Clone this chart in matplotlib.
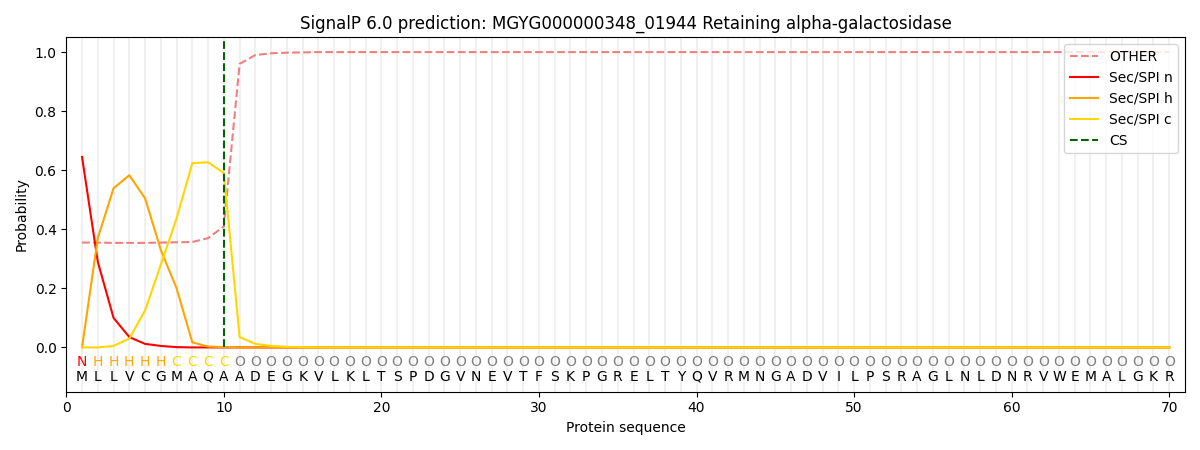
import numpy as np
import matplotlib
matplotlib.use("Agg")
import matplotlib.pyplot as plt

title = "SignalP 6.0 prediction: MGYG000000348_01944 Retaining alpha-galactosidase"
sequence = list("MLLVCGMAQAADEGKVLKLTSPDGVNEVTFSKPGRELTYQVRMNGADVILPSRAGLNLDNRVWEMALGKR")
region_labels = list("NHHHHHCCCC") + ["O"] * 60
cs_position = 10

other = [0.355, 0.355, 0.354, 0.354, 0.354, 0.355, 0.356, 0.357, 0.37, 0.41,
         0.96, 0.99, 0.996, 0.998, 0.999] + [1.0] * 55
sec_n = [0.645, 0.29, 0.10, 0.035, 0.012, 0.005, 0.001, 0.0] + [0.0] * 62
sec_h = [0.0, 0.37, 0.539, 0.583, 0.505, 0.33, 0.20, 0.017, 0.003, 0.001] + [0.0] * 60
sec_c = [0.0, 0.0, 0.005, 0.03, 0.125, 0.28, 0.437, 0.624, 0.627, 0.59,
         0.035, 0.012, 0.005, 0.002, 0.001] + [0.0] * 55

label_colors = {"N": "red", "H": "orange", "C": "gold", "O": "gray"}

positions = np.arange(1, len(sequence) + 1)

fig, ax = plt.subplots(figsize=(12, 4.5), dpi=100)

for p in positions:
    ax.axvline(p, color="#eeeeee", linewidth=1.2, zorder=0)

ax.plot(positions, other, color="lightcoral", linestyle="--", label="OTHER")
ax.plot(positions, sec_n, color="red", label="Sec/SPI n")
ax.plot(positions, sec_h, color="orange", label="Sec/SPI h")
ax.plot(positions, sec_c, color="gold", label="Sec/SPI c")
ax.plot([cs_position, cs_position], [0, 1.05], color="darkgreen", linestyle="--", label="CS")

for p, aa, lab in zip(positions, sequence, region_labels):
    ax.text(p, -0.05, lab, ha="center", va="center", fontsize=10, color=label_colors[lab])
    ax.text(p, -0.10, aa, ha="center", va="center", fontsize=10, color="black")

ax.set_xlim(0, 71)
ax.set_ylim(-0.15, 1.05)
ax.set_yticks([0.0, 0.2, 0.4, 0.6, 0.8, 1.0])
ax.set_xlabel("Protein sequence")
ax.set_ylabel("Probability")
ax.set_title(title)
ax.legend(loc="upper right")

plt.tight_layout()
plt.savefig("out.png")
